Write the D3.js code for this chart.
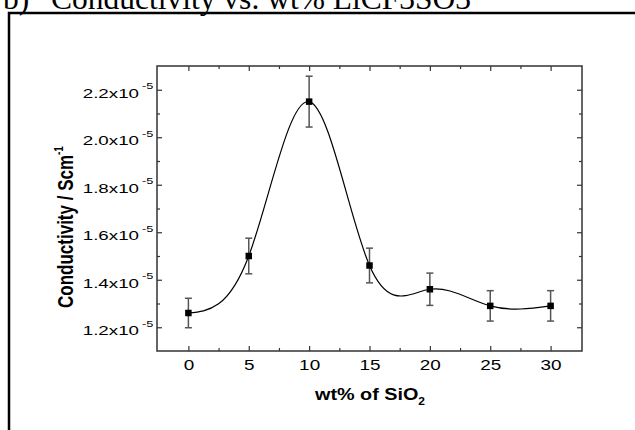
<!DOCTYPE html>
<html lang="en">
<head>
  <meta charset="UTF-8">
  <title>Conductivity vs wt% SiO2</title>
  <style>
    body { margin: 0; background: #fff; }
  </style>
</head>
<body>
<script src="https://d3js.org/d3.v7.min.js"></script>
<div id="d3_chart"></div>
<script>
    // data (conductivity in units of 1e-5 S/cm)
    const wt = [0, 5, 10, 15, 20, 25, 30];
    const cond = [1.26, 1.50, 2.15, 1.46, 1.36, 1.29, 1.29];
    const err = [0.062, 0.075, 0.107, 0.073, 0.068, 0.064, 0.064];
    const xTicks = [0, 5, 10, 15, 20, 25, 30];
    const xMinor = [2.5, 7.5, 12.5, 17.5, 22.5, 27.5];
    const yTicks = [1.2, 1.4, 1.6, 1.8, 2.0, 2.2];
    const yMinor = [1.3, 1.5, 1.7, 1.9, 2.1];

    const W = 635, H = 430;
    const plotL = 157, plotR = 582, plotT = 66, plotB = 351;

    const svg = d3.select("#d3_chart")
      .append("svg")
        .attr("width", W)
        .attr("height", H);

    // outer frame (cut off by the page) and caption
    svg.append("rect")
      .attr("x", 9).attr("y", 13)
      .attr("width", 700).attr("height", 500)
      .attr("fill", "none")
      .attr("stroke", "#000")
      .attr("stroke-width", 2.5);

    const cap = svg.append("g")
      .style("font-family", "'Liberation Serif', 'Times New Roman', serif")
      .style("font-size", "31.5px");
    cap.append("text").attr("x", 3).attr("y", 8.5).text("b)");
    cap.append("text").attr("x", 51).attr("y", 8.5).text("Conductivity vs. wt% LiCF3SO3");

    // scales
    const x = d3.scaleLinear().domain([-2.6, 32.6]).range([plotL, plotR]);
    const y = d3.scaleLinear().domain([1.1, 2.3]).range([plotB, plotT]);

    const axisColor = "#333";
    const sxTick = 1.35, syTick = 1.5;

    // bottom axis
    const gx = svg.append("g")
      .attr("transform", `translate(0,${plotB})`)
      .call(d3.axisBottom(x).tickValues(xTicks).tickSize(-5).tickPadding(0)
        .tickFormat(d3.format("d")));
    gx.selectAll(".tick text")
      .attr("y", 19)
      .attr("dy", 0)
      .attr("transform", `scale(${sxTick},1)`)
      .style("font-family", "'Liberation Sans', Arial, sans-serif")
      .style("font-size", "14px")
      .attr("fill", "#000");

    svg.append("g")
      .attr("transform", `translate(0,${plotB})`)
      .call(d3.axisBottom(x).tickValues(xMinor).tickSize(-3).tickFormat(""));

    // top axis (ticks only)
    svg.append("g")
      .attr("transform", `translate(0,${plotT})`)
      .call(d3.axisTop(x).tickValues(xTicks).tickSize(-5).tickFormat(""));
    svg.append("g")
      .attr("transform", `translate(0,${plotT})`)
      .call(d3.axisTop(x).tickValues(xMinor).tickSize(-3).tickFormat(""));

    // left axis
    const gy = svg.append("g")
      .attr("transform", `translate(${plotL},0)`)
      .call(d3.axisLeft(y).tickValues(yTicks).tickSize(-5).tickFormat(""));
    gy.selectAll(".tick").each(function(d) {
      d3.select(this).select("text")
        .attr("x", -18 / syTick)
        .attr("dy", 0)
        .attr("y", 7.5)
        .attr("transform", `scale(${syTick},1)`)
        .attr("text-anchor", "end")
        .attr("fill", "#000")
        .style("font-family", "'Liberation Sans', Arial, sans-serif")
        .style("font-size", "12.5px")
        .text(d.toFixed(1) + "x10");
      d3.select(this).append("text")
        .attr("x", -15 / syTick)
        .attr("y", -1)
        .attr("transform", `scale(${syTick},1)`)
        .attr("text-anchor", "start")
        .attr("fill", "#000")
        .style("font-family", "'Liberation Sans', Arial, sans-serif")
        .style("font-size", "8.5px")
        .text("-5");
    });
    svg.append("g")
      .attr("transform", `translate(${plotL},0)`)
      .call(d3.axisLeft(y).tickValues(yMinor).tickSize(-3).tickFormat(""));

    // right axis (ticks only)
    svg.append("g")
      .attr("transform", `translate(${plotR},0)`)
      .call(d3.axisRight(y).tickValues(yTicks).tickSize(-5).tickFormat(""));
    svg.append("g")
      .attr("transform", `translate(${plotR},0)`)
      .call(d3.axisRight(y).tickValues(yMinor).tickSize(-3).tickFormat(""));

    svg.selectAll(".domain").remove();
    svg.selectAll(".tick line")
      .attr("stroke", axisColor)
      .attr("stroke-width", 1.2);

    // plot frame
    svg.append("rect")
      .attr("x", plotL).attr("y", plotT)
      .attr("width", plotR - plotL).attr("height", plotB - plotT)
      .attr("fill", "none")
      .attr("stroke", axisColor)
      .attr("stroke-width", 1.5);

    // axis titles
    const xt = svg.append("text")
      .attr("transform", `translate(370,400) scale(1.2,1)`)
      .attr("text-anchor", "middle")
      .style("font-family", "'Liberation Sans', Arial, sans-serif")
      .style("font-weight", "bold")
      .style("font-size", "16.5px");
    xt.append("tspan").text("wt% of SiO");
    xt.append("tspan").attr("dy", 5).style("font-size", "10px").text("2");

    const yt = svg.append("text")
      .attr("transform", `translate(73,227) scale(1.28,1) rotate(-90)`)
      .attr("text-anchor", "middle")
      .style("font-family", "'Liberation Sans', Arial, sans-serif")
      .style("font-weight", "bold")
      .style("font-size", "17px");
    yt.append("tspan").text("Conductivity / Scm");
    yt.append("tspan").attr("dy", -8).style("font-size", "10px").text("-1");

    // data
    const data = wt.map((w, i) => ({x: w, y: cond[i], e: err[i]}));

    svg.append("path")
      .datum(data)
      .attr("fill", "none")
      .attr("stroke", "#000")
      .attr("stroke-width", 1.2)
      .attr("d", d3.line()
        .x(d => x(d.x))
        .y(d => y(d.y))
        .curve(d3.curveNatural));

    const eb = svg.append("g")
      .attr("stroke", "#555")
      .attr("stroke-width", 1.5);
    eb.selectAll(".bar")
      .data(data)
      .join("line")
        .attr("class", "bar")
        .attr("x1", d => x(d.x)).attr("x2", d => x(d.x))
        .attr("y1", d => y(d.y - d.e)).attr("y2", d => y(d.y + d.e));
    eb.selectAll(".capTop")
      .data(data)
      .join("line")
        .attr("class", "capTop")
        .attr("x1", d => x(d.x) - 3.5).attr("x2", d => x(d.x) + 3.5)
        .attr("y1", d => y(d.y + d.e)).attr("y2", d => y(d.y + d.e));
    eb.selectAll(".capBot")
      .data(data)
      .join("line")
        .attr("class", "capBot")
        .attr("x1", d => x(d.x) - 3.5).attr("x2", d => x(d.x) + 3.5)
        .attr("y1", d => y(d.y - d.e)).attr("y2", d => y(d.y - d.e));

    svg.selectAll(".pt")
      .data(data)
      .join("rect")
        .attr("class", "pt")
        .attr("x", d => x(d.x) - 3.25)
        .attr("y", d => y(d.y) - 3.25)
        .attr("width", 6.5)
        .attr("height", 6.5)
        .attr("fill", "#000");
</script>
</body>
</html>
